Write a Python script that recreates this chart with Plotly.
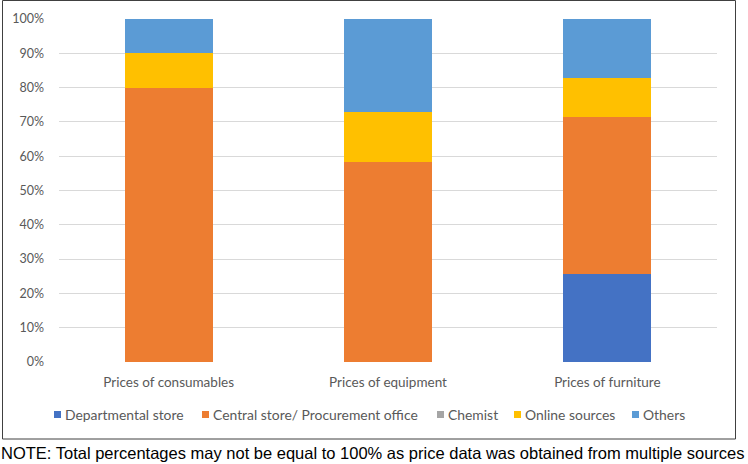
import plotly.graph_objects as go

categories = ["Prices of consumables", "Prices of equipment", "Prices of furniture"]
series_names = ["Departmental store", "Central store/ Procurement office", "Chemist", "Online sources", "Others"]
departmental = [0, 0, 25.7]
central = [80, 58.3, 45.7]
chemist = [0, 0, 0]
online = [10, 14.6, 11.4]
others = [10, 27.1, 17.2]
tick_vals = [0, 10, 20, 30, 40, 50, 60, 70, 80, 90, 100]
tick_text = [f"{v}%" for v in tick_vals]
colors = ["#4472C4", "#ED7D31", "#A5A5A5", "#FFC000", "#5B9BD5"]
note = "NOTE: Total percentages may not be equal to 100% as price data was obtained from multiple sources"

W, H = 748, 464
L, R, T, B = 59, 717, 19, 362  # plot area in pixels


def px(x):
    return (x - L) / (R - L)


def py(y):
    return (B - y) / (B - T)


fig = go.Figure()
for name, vals, col in zip(series_names, [departmental, central, chemist, online, others], colors):
    fig.add_trace(go.Bar(x=categories, y=vals, name=name, marker=dict(color=col, line=dict(width=0)),
                         showlegend=False))

fig.update_layout(
    width=W, height=H,
    margin=dict(l=L, r=W - R, t=T, b=H - B),
    barmode="stack", bargap=0.6,
    plot_bgcolor="white", paper_bgcolor="white",
    font=dict(family="Lato, Open Sans, sans-serif", color="#595959"),
    xaxis=dict(showgrid=False, showline=False, ticks="", tickfont=dict(size=13.5, color="#595959"),
               ticklabelstandoff=10),
    yaxis=dict(range=[0, 100], tickvals=tick_vals, ticktext=tick_text, showgrid=True,
               gridcolor="#D9D9D9", gridwidth=1, zeroline=False, showline=False, ticks="",
               tickfont=dict(size=12.5, color="#595959"), ticklabelstandoff=14),
)

# chart frame
fig.add_shape(type="rect", xref="paper", yref="paper", x0=px(2.5), x1=px(735.5), y0=py(439), y1=py(0.5),
              line=dict(color="#404040", width=1), fillcolor="rgba(0,0,0,0)", layer="below")

# custom legend
legend_x = [54, 202, 437, 514, 632]
for name, col, x in zip(series_names, colors, legend_x):
    fig.add_shape(type="rect", xref="paper", yref="paper", x0=px(x), x1=px(x + 7), y0=py(418), y1=py(411),
                  line=dict(width=0), fillcolor=col)
    fig.add_annotation(text=name, xref="paper", yref="paper", x=px(x + 9), y=py(414.5), xanchor="left",
                       yanchor="middle", showarrow=False, font=dict(size=13.9, color="#595959"))

fig.add_annotation(text=note, xref="paper", yref="paper", x=px(-1), y=py(453), xanchor="left", yanchor="middle",
                   showarrow=False, font=dict(family="Liberation Sans, Arial, sans-serif", size=16.5, color="black"))

fig.write_html("out.html", config={"displayModeBar": False},
               post_script="document.body.style.margin='0';document.body.style.overflow='hidden';")
